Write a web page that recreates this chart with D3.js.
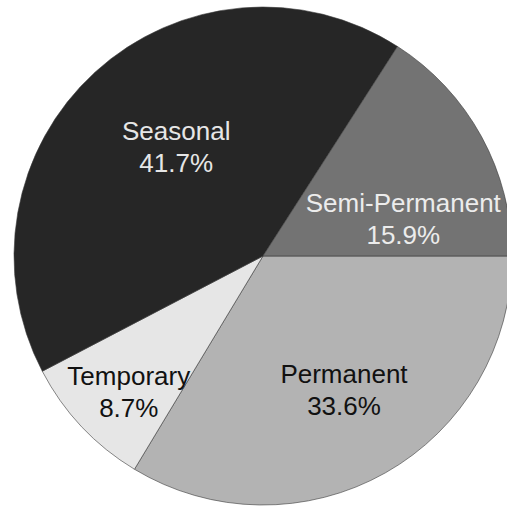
<!DOCTYPE html>
<html>
<head>
<meta charset="utf-8">
<script src="https://cdn.jsdelivr.net/npm/d3@7"></script>
<style>
  html, body { margin: 0; padding: 0; background: #fff; }
  svg { display: block; }
</style>
</head>
<body>
<svg id="pie" width="507" height="506"></svg>
<script>
// data, in clockwise order starting at 3 o'clock
var categories = ['Permanent', 'Temporary', 'Seasonal', 'Semi-Permanent']
var shares = [33.6, 8.7, 41.7, 15.9]
var labels = ['33.6%', '8.7%', '41.7%', '15.9%']

var fills = ['#b3b3b3', '#e6e6e6', '#262626', '#737373']
var textFills = ['#111', '#111', '#e6e6e6', '#ececec']
// label nudges: distance from center, angle shift (deg) from slice middle
var labelRadius = [157, 191, 139, 145]
var labelShift = [-1.6, -2.1, 3.8, 14]

var width = 507, height = 506
var cx = 263, cy = 256, r = 249

var svg = d3.select('#pie')
var g = svg.append('g').attr('transform', 'translate(' + cx + ',' + cy + ')')

var pie = d3.pie()
    .sort(null)
    .startAngle(Math.PI / 2)
    .endAngle(Math.PI / 2 + 2 * Math.PI)
    .value(function(d){ return d })

var arcs = pie(shares)

var arc = d3.arc().innerRadius(0).outerRadius(r)

g.selectAll('path.slice')
    .data(arcs)
    .enter().append('path')
    .attr('class', 'slice')
    .attr('d', arc)
    .attr('fill', function(d, i){ return fills[i] })
    .attr('stroke', '#3a3a3a')
    .attr('stroke-width', 0.6)

var lbl = g.selectAll('text.lbl')
    .data(arcs)
    .enter().append('text')
    .attr('class', 'lbl')
    .attr('text-anchor', 'middle')
    .attr('font-family', 'Liberation Sans, Arial, sans-serif')
    .attr('font-size', 26)
    .attr('fill', function(d, i){ return textFills[i] })
    .attr('transform', function(d, i){
        var a = (d.startAngle + d.endAngle) / 2 + labelShift[i] * Math.PI / 180
        var x = labelRadius[i] * Math.sin(a)
        var y = -labelRadius[i] * Math.cos(a)
        return 'translate(' + x + ',' + y + ')'
    })

lbl.append('tspan')
    .attr('x', 0)
    .attr('y', -7)
    .text(function(d, i){ return categories[i] })

lbl.append('tspan')
    .attr('x', 0)
    .attr('y', 25)
    .text(function(d, i){ return labels[i] })
</script>
</body>
</html>
